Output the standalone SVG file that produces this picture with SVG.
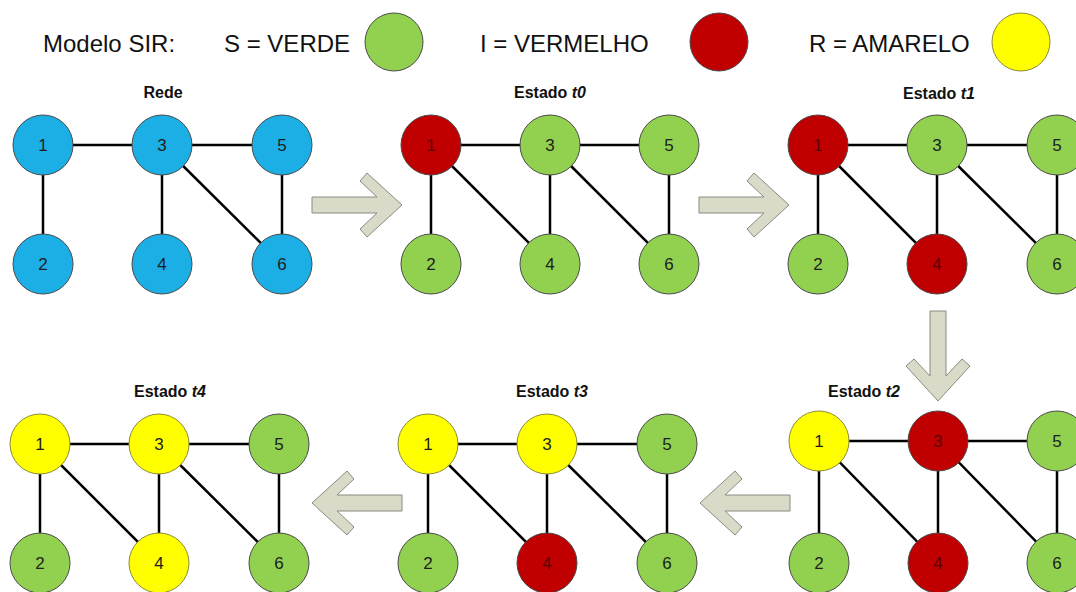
<svg xmlns="http://www.w3.org/2000/svg" width="1076" height="592" viewBox="0 0 1076 592">
<style>
text{font-family:"Liberation Sans",Arial,sans-serif;}
.leg{font-size:24px;fill:#111;}
.ttl{font-size:16px;font-weight:bold;fill:#111;text-anchor:middle;}
.ttl tspan.i{font-style:italic;}
.n circle{stroke:#4a4a4a;stroke-width:1;}
.n text{font-size:17px;fill:#1e1e1e;text-anchor:middle;}
.b circle{fill:#1CAFE6;}
.g circle{fill:#92D050;}
.r circle{fill:#C00000;}
.r text{fill:#5a0000;}
.y circle{fill:#FFFF00;stroke:#8a8a3a;}
.e line{stroke:#000;stroke-width:2.5;}
.arr{fill:#D9DBC8;stroke:#8a8a80;stroke-width:1;}
</style>
<defs>
<path id="arrow" d="M0,0 L-35,-32 L-42,-24 L-25,-8 L-90,-8 L-90,8 L-25,8 L-42,24 L-35,32 Z"/>
</defs>
<rect width="1076" height="592" fill="#fff"/>

<g id="legend">
<text class="leg" x="43" y="52">Modelo SIR:</text>
<text class="leg" x="224" y="52">S = VERDE</text>
<circle cx="394" cy="42" r="29" fill="#92D050" stroke="#4a4a4a" stroke-width="1"/>
<text class="leg" x="480" y="52">I = VERMELHO</text>
<circle cx="719" cy="42" r="29" fill="#C00000" stroke="#4a4a4a" stroke-width="1"/>
<text class="leg" x="809" y="52">R = AMARELO</text>
<circle cx="1021" cy="42" r="29" fill="#FFFF00" stroke="#8a8a3a" stroke-width="1"/>
</g>

<g id="titles">
<text class="ttl" x="163" y="98">Rede</text>
<text class="ttl" x="550" y="98">Estado <tspan class="i">t0</tspan></text>
<text class="ttl" x="939" y="99">Estado <tspan class="i">t1</tspan></text>
<text class="ttl" x="864" y="397">Estado <tspan class="i">t2</tspan></text>
<text class="ttl" x="552" y="397">Estado <tspan class="i">t3</tspan></text>
<text class="ttl" x="170" y="397">Estado <tspan class="i">t4</tspan></text>
</g>

<g id="connectors">
<g class="e" id="edges-rede">
<line x1="43" y1="145" x2="162" y2="145"/><line x1="162" y1="145" x2="282" y2="145"/>
<line x1="43" y1="145" x2="43" y2="264"/><line x1="162" y1="145" x2="162" y2="264"/>
<line x1="162" y1="145" x2="282" y2="264"/><line x1="282" y1="145" x2="282" y2="264"/>
</g>
<g class="e" id="edges-t0">
<line x1="431" y1="145" x2="550" y2="145"/><line x1="550" y1="145" x2="669" y2="145"/>
<line x1="431" y1="145" x2="431" y2="264"/><line x1="431" y1="145" x2="550" y2="264"/>
<line x1="550" y1="145" x2="550" y2="264"/><line x1="550" y1="145" x2="669" y2="264"/>
<line x1="669" y1="145" x2="669" y2="264"/>
</g>
<g class="e" id="edges-t1">
<line x1="818" y1="145" x2="937" y2="145"/><line x1="937" y1="145" x2="1057" y2="145"/>
<line x1="818" y1="145" x2="818" y2="264"/><line x1="818" y1="145" x2="937" y2="264"/>
<line x1="937" y1="145" x2="937" y2="264"/><line x1="937" y1="145" x2="1057" y2="264"/>
<line x1="1057" y1="145" x2="1057" y2="264"/>
</g>
<g class="e" id="edges-t2">
<line x1="819" y1="441" x2="938" y2="441"/><line x1="938" y1="441" x2="1057" y2="441"/>
<line x1="819" y1="441" x2="819" y2="563"/><line x1="819" y1="441" x2="938" y2="563"/>
<line x1="938" y1="441" x2="938" y2="563"/><line x1="938" y1="441" x2="1057" y2="563"/>
<line x1="1057" y1="441" x2="1057" y2="563"/>
</g>
<g class="e" id="edges-t3">
<line x1="428" y1="444" x2="547" y2="444"/><line x1="547" y1="444" x2="667" y2="444"/>
<line x1="428" y1="444" x2="428" y2="563"/><line x1="428" y1="444" x2="547" y2="563"/>
<line x1="547" y1="444" x2="547" y2="563"/><line x1="547" y1="444" x2="667" y2="563"/>
<line x1="667" y1="444" x2="667" y2="563"/>
</g>
<g class="e" id="edges-t4">
<line x1="40" y1="444" x2="159" y2="444"/><line x1="159" y1="444" x2="279" y2="444"/>
<line x1="40" y1="444" x2="40" y2="563"/><line x1="40" y1="444" x2="159" y2="563"/>
<line x1="159" y1="444" x2="159" y2="563"/><line x1="159" y1="444" x2="279" y2="563"/>
<line x1="279" y1="444" x2="279" y2="563"/>
</g>
<g id="arrows">
<use href="#arrow" class="arr" transform="translate(402,205)"/>
<use href="#arrow" class="arr" transform="translate(789,205)"/>
<use href="#arrow" class="arr" transform="translate(938,401) rotate(90)"/>
<use href="#arrow" class="arr" transform="translate(700,503) rotate(180)"/>
<use href="#arrow" class="arr" transform="translate(312,503) rotate(180)"/>
</g>
</g>

<g id="graph-rede">
<g id="rede-1" class="n b"><circle cx="43" cy="145" r="30"/><text x="43" y="151">1</text></g>
<g id="rede-3" class="n b"><circle cx="162" cy="145" r="30"/><text x="162" y="151">3</text></g>
<g id="rede-5" class="n b"><circle cx="282" cy="145" r="30"/><text x="282" y="151">5</text></g>
<g id="rede-2" class="n b"><circle cx="43" cy="264" r="30"/><text x="43" y="270">2</text></g>
<g id="rede-4" class="n b"><circle cx="162" cy="264" r="30"/><text x="162" y="270">4</text></g>
<g id="rede-6" class="n b"><circle cx="282" cy="264" r="30"/><text x="282" y="270">6</text></g>
</g>

<g id="graph-t0">
<g id="t0-1" class="n r"><circle cx="431" cy="145" r="30"/><text x="431" y="151">1</text></g>
<g id="t0-3" class="n g"><circle cx="550" cy="145" r="30"/><text x="550" y="151">3</text></g>
<g id="t0-5" class="n g"><circle cx="669" cy="145" r="30"/><text x="669" y="151">5</text></g>
<g id="t0-2" class="n g"><circle cx="431" cy="264" r="30"/><text x="431" y="270">2</text></g>
<g id="t0-4" class="n g"><circle cx="550" cy="264" r="30"/><text x="550" y="270">4</text></g>
<g id="t0-6" class="n g"><circle cx="669" cy="264" r="30"/><text x="669" y="270">6</text></g>
</g>

<g id="graph-t1">
<g id="t1-1" class="n r"><circle cx="818" cy="145" r="30"/><text x="818" y="151">1</text></g>
<g id="t1-3" class="n g"><circle cx="937" cy="145" r="30"/><text x="937" y="151">3</text></g>
<g id="t1-5" class="n g"><circle cx="1057" cy="145" r="30"/><text x="1057" y="151">5</text></g>
<g id="t1-2" class="n g"><circle cx="818" cy="264" r="30"/><text x="818" y="270">2</text></g>
<g id="t1-4" class="n r"><circle cx="937" cy="264" r="30"/><text x="937" y="270">4</text></g>
<g id="t1-6" class="n g"><circle cx="1057" cy="264" r="30"/><text x="1057" y="270">6</text></g>
</g>

<g id="graph-t2">
<g id="t2-1" class="n y"><circle cx="819" cy="441" r="30"/><text x="819" y="447">1</text></g>
<g id="t2-3" class="n r"><circle cx="938" cy="441" r="30"/><text x="938" y="447">3</text></g>
<g id="t2-5" class="n g"><circle cx="1057" cy="441" r="30"/><text x="1057" y="447">5</text></g>
<g id="t2-2" class="n g"><circle cx="819" cy="563" r="30"/><text x="819" y="569">2</text></g>
<g id="t2-4" class="n r"><circle cx="938" cy="563" r="30"/><text x="938" y="569">4</text></g>
<g id="t2-6" class="n g"><circle cx="1057" cy="563" r="30"/><text x="1057" y="569">6</text></g>
</g>

<g id="graph-t3">
<g id="t3-1" class="n y"><circle cx="428" cy="444" r="30"/><text x="428" y="450">1</text></g>
<g id="t3-3" class="n y"><circle cx="547" cy="444" r="30"/><text x="547" y="450">3</text></g>
<g id="t3-5" class="n g"><circle cx="667" cy="444" r="30"/><text x="667" y="450">5</text></g>
<g id="t3-2" class="n g"><circle cx="428" cy="563" r="30"/><text x="428" y="569">2</text></g>
<g id="t3-4" class="n r"><circle cx="547" cy="563" r="30"/><text x="547" y="569">4</text></g>
<g id="t3-6" class="n g"><circle cx="667" cy="563" r="30"/><text x="667" y="569">6</text></g>
</g>

<g id="graph-t4">
<g id="t4-1" class="n y"><circle cx="40" cy="444" r="30"/><text x="40" y="450">1</text></g>
<g id="t4-3" class="n y"><circle cx="159" cy="444" r="30"/><text x="159" y="450">3</text></g>
<g id="t4-5" class="n g"><circle cx="279" cy="444" r="30"/><text x="279" y="450">5</text></g>
<g id="t4-2" class="n g"><circle cx="40" cy="563" r="30"/><text x="40" y="569">2</text></g>
<g id="t4-4" class="n y"><circle cx="159" cy="563" r="30"/><text x="159" y="569">4</text></g>
<g id="t4-6" class="n g"><circle cx="279" cy="563" r="30"/><text x="279" y="569">6</text></g>
</g>
</svg>
